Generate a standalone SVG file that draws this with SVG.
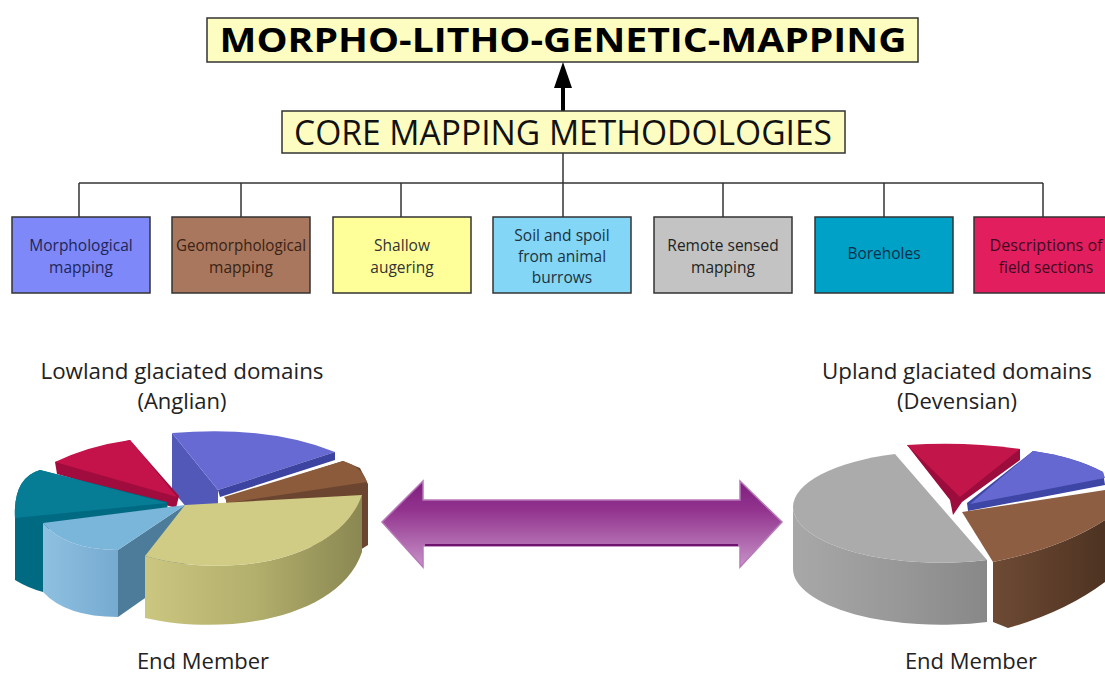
<svg xmlns="http://www.w3.org/2000/svg" width="1105" height="675" viewBox="0 0 1105 675">
<style>
.box{stroke:#333;stroke-width:1.5}
.t{font-family:"Open Sans","Noto Sans",sans-serif;font-size:15.5px;text-anchor:middle}
.lbl{font-family:"Open Sans","Noto Sans",sans-serif;font-size:22px;fill:#222;text-anchor:middle}
.conn{stroke:#333;stroke-width:1.5;fill:none}
</style>
<defs>
<linearGradient id="yside" x1="0" y1="0" x2="1" y2="0"><stop offset="0" stop-color="#cbc781"/><stop offset="0.5" stop-color="#b3af6c"/><stop offset="1" stop-color="#8a8752"/></linearGradient>
<linearGradient id="lbside" x1="0" y1="0" x2="1" y2="0"><stop offset="0" stop-color="#8ec0e0"/><stop offset="1" stop-color="#76aad0"/></linearGradient>
<linearGradient id="gside" x1="0" y1="0" x2="1" y2="0"><stop offset="0" stop-color="#a8a8a8"/><stop offset="0.6" stop-color="#969696"/><stop offset="1" stop-color="#888"/></linearGradient>
<linearGradient id="bside" x1="0" y1="0" x2="1" y2="0"><stop offset="0" stop-color="#6e4a34"/><stop offset="1" stop-color="#4e3322"/></linearGradient>
<linearGradient id="arr" x1="0" y1="0" x2="0" y2="1"><stop offset="0" stop-color="#7e1e7e"/><stop offset="0.35" stop-color="#93358f"/><stop offset="1" stop-color="#c793c8"/></linearGradient>
</defs>
<rect width="1105" height="675" fill="#fff"/>

<g id="connectors">
<line class="conn" x1="563" y1="153" x2="563" y2="183"/>
<line class="conn" x1="79" y1="183" x2="1043" y2="183"/>
<line class="conn" x1="79" y1="183" x2="79" y2="217"/>
<line class="conn" x1="241" y1="183" x2="241" y2="217"/>
<line class="conn" x1="401" y1="183" x2="401" y2="217"/>
<line class="conn" x1="563" y1="183" x2="563" y2="217"/>
<line class="conn" x1="723" y1="183" x2="723" y2="217"/>
<line class="conn" x1="884" y1="183" x2="884" y2="217"/>
<line class="conn" x1="1043" y1="183" x2="1043" y2="217"/>
<line x1="563" y1="111" x2="563" y2="84" stroke="#000" stroke-width="4"/>
<polygon points="563,62 554,88 572,88" fill="#000"/>
</g>

<g id="title">
<rect class="box" x="207" y="18" width="711" height="44" fill="#fdfdc2"/>
<text x="563" y="52" font-family="'Open Sans','Noto Sans',sans-serif" font-weight="700" font-size="34" text-anchor="middle" textLength="687" lengthAdjust="spacingAndGlyphs" fill="#000">MORPHO-LITHO-GENETIC-MAPPING</text>
</g>
<g id="core">
<rect class="box" x="282" y="111" width="563" height="42" fill="#fdfdc2"/>
<text x="563" y="145" font-family="'Open Sans','Noto Sans',sans-serif" font-size="35" text-anchor="middle" textLength="538" lengthAdjust="spacingAndGlyphs" fill="#111">CORE MAPPING METHODOLOGIES</text>
</g>

<g id="m1"><rect class="box" x="12" y="217" width="138" height="76" fill="#7f88f8"/>
<text class="t" fill="#1d2658"><tspan x="81" y="251">Morphological</tspan><tspan x="81" y="273">mapping</tspan></text></g>
<g id="m2"><rect class="box" x="172" y="217" width="138" height="76" fill="#a8775e"/>
<text class="t" fill="#3a2214"><tspan x="241" y="251" textLength="130" lengthAdjust="spacingAndGlyphs">Geomorphological</tspan><tspan x="241" y="273">mapping</tspan></text></g>
<g id="m3"><rect class="box" x="333" y="217" width="138" height="76" fill="#ffff9a"/>
<text class="t" fill="#333"><tspan x="402" y="251">Shallow</tspan><tspan x="402" y="273">augering</tspan></text></g>
<g id="m4"><rect class="box" x="493" y="217" width="138" height="76" fill="#84d6f6"/>
<text class="t" fill="#1b3340"><tspan x="562" y="241">Soil and spoil</tspan><tspan x="562" y="262">from animal</tspan><tspan x="562" y="283">burrows</tspan></text></g>
<g id="m5"><rect class="box" x="654" y="217" width="138" height="76" fill="#c3c3c3"/>
<text class="t" fill="#222"><tspan x="723" y="251">Remote sensed</tspan><tspan x="723" y="273">mapping</tspan></text></g>
<g id="m6"><rect class="box" x="815" y="217" width="138" height="76" fill="#00a1c7"/>
<text class="t" fill="#06304a"><tspan x="884" y="259">Boreholes</tspan></text></g>
<g id="m7"><rect class="box" x="974" y="217" width="140" height="76" fill="#e31e5f"/>
<text class="t" fill="#3d0a1e"><tspan x="1046" y="251" textLength="113" lengthAdjust="spacingAndGlyphs">Descriptions of</tspan><tspan x="1046" y="273">field sections</tspan></text></g>

<g id="labels">
<text class="lbl" x="182" y="379" textLength="283" lengthAdjust="spacingAndGlyphs">Lowland glaciated domains</text>
<text class="lbl" x="182" y="409">(Anglian)</text>
<text class="lbl" x="957" y="379" textLength="270" lengthAdjust="spacingAndGlyphs">Upland glaciated domains</text>
<text class="lbl" x="957" y="409">(Devensian)</text>
<text class="lbl" x="203" y="669">End Member</text>
<text class="lbl" x="971" y="669">End Member</text>
</g>

<g id="left-pie">
<path d="M172,433 L218,490 L218,545 L172,490 Z" fill="#5258b8"/>
<path d="M172,433 Q268,425 335,452 L218,490 Z" fill="#676ad2"/>
<path d="M218,490 L335,452 L335,460 L220,497 Z" fill="#3c43a0"/>
<path d="M226,498 L343,461 L360,468 L368,484 L368,545 L360,550 L228,540 Z" fill="#6b4530"/>
<path d="M224,497 L343,461 Q362,467 367,482 L228,503 Z" fill="#8b5b3c"/>
<path d="M55,462 L130,440 L179,496 L176,508 L57,474 Z" fill="#a00c3e"/>
<path d="M55,462 Q88,446 130,440 L177,497 Z" fill="#c4134b"/>
<path d="M15,518 Q13,478 40,470 L167,502 L168,511 L43,530 L43,592 Q28,588 15,580 Z" fill="#006a82"/>
<path d="M15,518 Q13,478 40,470 L167,503 Z" fill="#067c95"/>
<path d="M185,505 L118,550 L118,617 L185,570 Z" fill="#4c7c9a"/>
<path d="M43,523 Q66,550 118,550 L118,617 Q66,617 43,592 Z" fill="url(#lbside)"/>
<path d="M43,523 L185,505 L118,550 Q66,550 43,523 Z" fill="#7ab5da"/>
<path d="M145,556 C230,580 340,560 362,495 L362,552 C340,617 230,637 145,618 Z" fill="url(#yside)"/>
<path d="M185,505 L145,556 C230,580 340,560 362,495 Z" fill="#d0cc86"/>
</g>

<g id="double-arrow">
<polygon points="382,522 423,481 423,500 740,500 740,481 782,522 740,567 740,546 423,546 423,567" fill="url(#arr)" stroke="#b878b8" stroke-width="1.5"/>
<line x1="425" y1="545" x2="738" y2="545" stroke="#6e146e" stroke-width="2"/>
</g>

<g id="right-pie">
<path d="M907,445 L1020,449 L1020,460 L962,502 L953,515 L950,500 Z" fill="#9c0c3c"/>
<path d="M907,445 Q965,441 1020,449 L960,497 Z" fill="#c2164b"/>
<path d="M1033,451 Q1075,457 1103,472 L1105,485 L968,511 L967,503 Z" fill="#3d45a5"/>
<path d="M1033,451 Q1075,457 1103,472 L1105,478 L970,504 Z" fill="#6468d0"/>
<path d="M993,562 Q1062,548 1105,520 L1105,582 Q1065,612 1008,628 L993,622 Z" fill="url(#bside)"/>
<path d="M962,512 L1105,490 L1105,520 Q1062,548 993,562 Z" fill="#8d5e42"/>
<path d="M987,560 A148,56 0 0 1 793,507 L793,569 A148,56 0 0 0 987,622 Z" fill="url(#gside)"/>
<path d="M987,560 A148,56 0 0 1 793,507 A148,56 0 0 1 895,454 Z" fill="#ababab"/>
</g>
</svg>
